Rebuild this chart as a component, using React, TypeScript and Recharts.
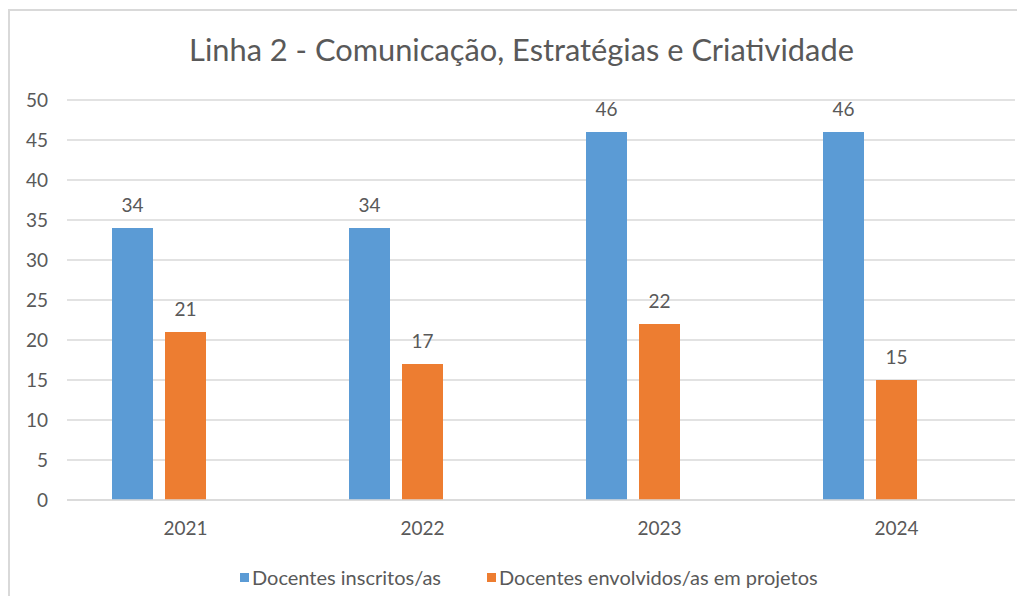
import { Bar, BarChart, CartesianGrid, LabelList, XAxis, YAxis } from "recharts";

const anos = ["2021", "2022", "2023", "2024"];
const inscritos = [34, 34, 46, 46];
const envolvidos = [21, 17, 22, 15];
// Excel reserved a third, empty series slot in each group
const reserva = [null, null, null, null];
const yTicks = [0, 5, 10, 15, 20, 25, 30, 35, 40, 45, 50];

const series = [
  { key: "inscritos", name: "Docentes inscritos/as", color: "#5B9BD5" },
  { key: "envolvidos", name: "Docentes envolvidos/as em projetos", color: "#ED7D31" }
];

const data = anos.map((ano, i) => ({
  ano,
  inscritos: inscritos[i],
  envolvidos: envolvidos[i],
  reserva: reserva[i]
}));

const FONT = "Lato, 'Open Sans', sans-serif";
const TEXT = "#595959";

export default function App() {
  return (
    <div
      style={{
        position: "relative",
        margin: -8,
        width: 1025,
        height: 604,
        background: "#fff",
        overflow: "hidden",
        fontFamily: FONT
      }}
    >
      <div
        style={{
          position: "absolute",
          left: 8,
          top: 9,
          right: -2,
          bottom: -2,
          borderTop: "2px solid #D9D9D9",
          borderLeft: "2px solid #D9D9D9"
        }}
      />
      <div
        style={{
          position: "absolute",
          top: 30,
          left: 0,
          width: 1043,
          textAlign: "center",
          fontSize: 30.8,
          lineHeight: "40px",
          color: TEXT
        }}
      >
        Linha 2 - Comunicação, Estratégias e Criatividade
      </div>
      <div style={{ position: "absolute", left: 0, top: 0 }}>
        <BarChart
          width={1025}
          height={604}
          data={data}
          margin={{ top: 100, right: 10, bottom: 64, left: 0 }}
          barCategoryGap={45}
          barGap={12}
        >
          <CartesianGrid vertical={false} stroke="#D9D9D9" strokeWidth={1.5} />
          <XAxis
            dataKey="ano"
            height={40}
            tickLine={false}
            tickSize={0}
            tickMargin={22}
            axisLine={{ stroke: "#D9D9D9", strokeWidth: 1.5 }}
            tick={{ fill: TEXT, fontSize: 19, fontFamily: FONT }}
          />
          <YAxis
            width={67}
            domain={[0, 50]}
            ticks={yTicks}
            interval={0}
            tickLine={false}
            tickSize={0}
            tickMargin={19}
            axisLine={false}
            tick={{ fill: TEXT, fontSize: 19, fontFamily: FONT }}
          />
          {series.map((s) => (
            <Bar key={s.key} dataKey={s.key} name={s.name} fill={s.color} isAnimationActive={false}>
              <LabelList dataKey={s.key} position="top" offset={16} fill={TEXT} fontSize={19} fontFamily={FONT} />
            </Bar>
          ))}
          <Bar dataKey="reserva" fill="none" isAnimationActive={false} />
        </BarChart>
      </div>
      <div
        style={{
          position: "absolute",
          top: 566,
          left: 240,
          display: "flex",
          gap: 46,
          fontSize: 20,
          lineHeight: "22px",
          color: TEXT
        }}
      >
        {series.map((s) => (
          <div key={s.key} style={{ display: "flex", alignItems: "center" }}>
            <span style={{ width: 9, height: 9, background: s.color, marginRight: 3 }} />
            {s.name}
          </div>
        ))}
      </div>
    </div>
  );
}
